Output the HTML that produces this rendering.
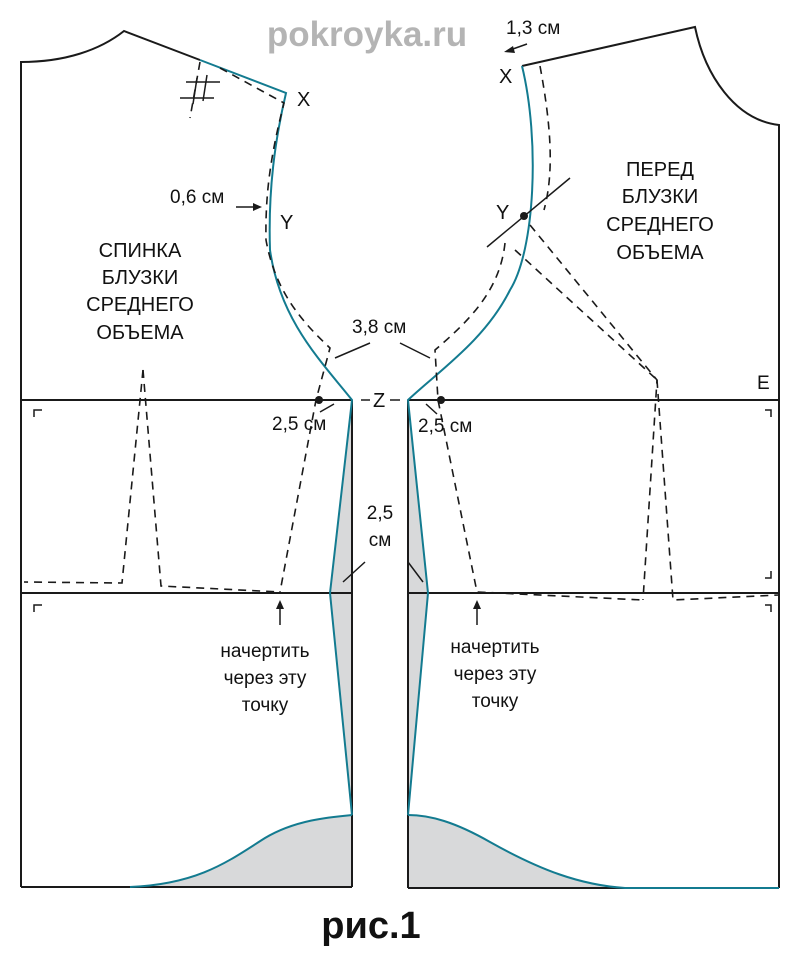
<!DOCTYPE html>
<html><head><meta charset="utf-8"><style>
html,body{margin:0;padding:0;background:#fff;}
svg{display:block;}
text{font-family:"Liberation Sans","DejaVu Sans",sans-serif;fill:#111;}
</style></head><body>
<svg width="800" height="957" viewBox="0 0 800 957" xmlns="http://www.w3.org/2000/svg">
<path d="M352,400 L330,593 L352,815 Z" fill="#d8d9da"/>
<path d="M408,400 L428,593 L408,815 Z" fill="#d8d9da"/>
<path d="M130,887 C200,884 230,860 265,838 C295,820 330,817 352,815 L352,887 Z" fill="#d8d9da"/>
<path d="M408,815 C430,815 455,822 490,842 C540,870 580,885 625,888 L408,888 Z" fill="#d8d9da"/>

<g fill="none" stroke="#1a1a1a" stroke-width="2">
<path d="M21,887 L21,62 C65,62 100,50 124,31 L200,60"/>
<line x1="21" y1="400" x2="352" y2="400"/>
<line x1="21" y1="593" x2="352" y2="593"/>
<line x1="352" y1="400" x2="352" y2="887"/>
<line x1="21" y1="887" x2="352" y2="887"/>
<path d="M522,66 L695,27 C705,75 735,120 779,125 L779,888"/>
<line x1="408" y1="400" x2="779" y2="400"/>
<line x1="408" y1="593" x2="779" y2="593"/>
<line x1="408" y1="400" x2="408" y2="888"/>
<line x1="408" y1="888" x2="779" y2="888"/>
</g>

<g fill="none" stroke="#137b90" stroke-width="2">
<path d="M200,60 L286,93 C275,140 268,190 270,250 C280,320 320,360 352,400 L330,593 L352,815"/>
<path d="M130,887 C200,884 230,860 265,838 C295,820 330,817 352,815"/>
<path d="M522,66 C540,140 535,250 510,290 C485,340 440,370 408,400 L428,593 L408,815"/>
<path d="M408,815 C430,815 455,822 490,842 C540,870 580,885 625,888 L779,888"/>
</g>

<g fill="none" stroke="#1a1a1a" stroke-width="1.6" stroke-dasharray="8,6">
<path d="M220,68 L284,103 C272,150 265,190 266,240 C275,290 300,320 330,348 L316,400 L280,592"/>
<path d="M200,62 L190,118"/>
<path d="M143,370 L122,583 L24,582"/>
<path d="M143,370 L161,586 L280,592"/>
<path d="M540,66 C550,120 555,170 544,210"/>
<path d="M505,243 C500,290 470,320 435,350 L438,400 L477,592 L643,600"/>
<path d="M530,225 L657,380 L643,600"/>
<path d="M515,250 L655,378"/>
<path d="M657,380 L673,600 L779,595"/>
</g>

<g stroke="#1a1a1a" stroke-width="1.5" fill="none">
<line x1="186" y1="82" x2="220" y2="82"/>
<line x1="180" y1="98" x2="214" y2="98"/>
<line x1="197" y1="78" x2="193" y2="104"/>
<line x1="207" y1="75" x2="203" y2="101"/>
<line x1="487" y1="247" x2="570" y2="178"/>
<line x1="335" y1="358" x2="370" y2="343"/>
<line x1="400" y1="343" x2="430" y2="358"/>
<line x1="343" y1="582" x2="365" y2="562"/>
<line x1="408" y1="562" x2="423" y2="582"/>
<line x1="320" y1="412" x2="334" y2="404"/>
<line x1="426" y1="404" x2="437" y2="414"/>
<line x1="361" y1="400" x2="370" y2="400"/>
<line x1="390" y1="400" x2="400" y2="400"/>
<line x1="236" y1="207" x2="258" y2="207"/>
<line x1="510" y1="50" x2="527" y2="44"/>
<line x1="280" y1="608" x2="280" y2="625"/>
<line x1="477" y1="608" x2="477" y2="625"/>
<path d="M34,417 L34,410 L42,410"/>
<path d="M34,612 L34,605 L42,605"/>
<path d="M765,410 L771,410 L771,417"/>
<path d="M765,578 L771,578 L771,571"/>
<path d="M765,605 L771,605 L771,612"/>
</g>
<g fill="#1a1a1a">
<polygon points="262,207 253,203 253,211"/>
<polygon points="504,52 513,46 515,53"/>
<polygon points="280,600 276,609 284,609"/>
<polygon points="477,600 473,609 481,609"/>
<circle cx="319" cy="400" r="4"/>
<circle cx="441" cy="400" r="4"/>
<circle cx="524" cy="216" r="4"/>
</g>

<text x="367" y="46" font-size="35" font-weight="bold" text-anchor="middle" style="fill:#b4b4b4">pokroyka.ru</text>
<text x="297" y="106" font-size="20">X</text>
<text x="499" y="83" font-size="20">X</text>
<text x="280" y="229" font-size="20">Y</text>
<text x="496" y="219" font-size="20">Y</text>
<text x="170" y="203" font-size="19">0,6 см</text>
<text x="506" y="34" font-size="19">1,3 см</text>
<g font-size="20" text-anchor="middle">
<text x="140" y="257">СПИНКА</text>
<text x="140" y="284">БЛУЗКИ</text>
<text x="140" y="311">СРЕДНЕГО</text>
<text x="140" y="339">ОБЪЕМА</text>
<text x="660" y="176">ПЕРЕД</text>
<text x="660" y="203">БЛУЗКИ</text>
<text x="660" y="231">СРЕДНЕГО</text>
<text x="660" y="259">ОБЪЕМА</text>
</g>
<text x="352" y="333" font-size="19">3,8 см</text>
<text x="373" y="407" font-size="20">Z</text>
<text x="757" y="389" font-size="19">E</text>
<text x="272" y="430" font-size="19">2,5 см</text>
<text x="418" y="432" font-size="19">2,5 см</text>
<text x="380" y="519" font-size="19" text-anchor="middle">2,5</text>
<text x="380" y="546" font-size="19" text-anchor="middle">см</text>
<g font-size="19" text-anchor="middle">
<text x="265" y="657">начертить</text>
<text x="265" y="684">через эту</text>
<text x="265" y="711">точку</text>
<text x="495" y="653">начертить</text>
<text x="495" y="680">через эту</text>
<text x="495" y="707">точку</text>
</g>
<text x="371" y="938" font-size="38" font-weight="bold" text-anchor="middle">рис.1</text>
</svg>
</body></html>
